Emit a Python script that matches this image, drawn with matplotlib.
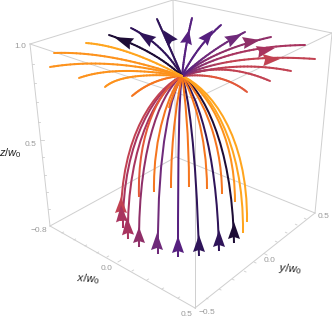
import matplotlib
matplotlib.use("Agg")
import numpy as np
import matplotlib.pyplot as plt
from matplotlib.path import Path
from matplotlib.patches import PathPatch
from matplotlib.collections import LineCollection
from matplotlib.colors import to_rgb

plt.rcParams["font.family"] = ["Liberation Sans", "DejaVu Sans"]
plt.rcParams["mathtext.fontset"] = "custom"
plt.rcParams["mathtext.rm"] = "Liberation Sans"
plt.rcParams["mathtext.it"] = "Liberation Sans:italic"

focus = (182, 76)

BLACK = "#1d0c35"
DPURP = "#2f1459"
PURP = "#56207f"
VIOL = "#6f2a7a"
MAG = "#8f2f68"
ROSE = "#a8345f"
RED = "#c24252"
RORG = "#e2583a"
ORNG = "#f5761f"
AMBR = "#fd921c"
YELL = "#ffa51e"

# fan above the focus: end, control point, colour at the focus, colour at the end
top_ends = [(86, 43), (54, 53), (50, 67), (79, 78), (105, 87), (132, 96), (109, 35), (131, 28), (157, 19),
            (192, 18), (221, 25), (245, 32), (271, 37), (305, 45), (315, 59), (291, 71), (270, 81), (247, 92)]
top_ctrl = [(126, 46), (108, 51), (110, 57), (115, 65), (122, 72), (153, 78), (154, 50), (163, 44), (170, 48),
            (185, 47), (198, 45), (210, 50), (213, 50), (230, 46), (231, 53), (237, 60), (224, 61), (222, 72)]
top_cols = [YELL, AMBR, AMBR, AMBR, AMBR, ORNG, BLACK, DPURP, DPURP,
            PURP, PURP, VIOL, MAG, ROSE, RED, RED, RED, RORG]
top_starts = [YELL, AMBR, AMBR, AMBR, AMBR, ORNG, BLACK, DPURP, DPURP,
              PURP, PURP, PURP, PURP, VIOL, VIOL, MAG, MAG, ROSE]

# arrow heads above the focus: tip, base
top_tips = [(114, 37), (138, 32), (163, 30), (189, 30), (213, 30), (242, 34), (260, 40), (275, 48), (280, 59)]
top_bases = [(132, 44), (153, 42), (173, 43), (186, 44), (203, 42), (227, 42), (243, 43), (257, 52), (263, 60)]
top_head_cols = [BLACK, DPURP, DPURP, PURP, PURP, VIOL, MAG, ROSE, RED]

# domes under the focus: first control, second control, end, colour
dome_c1 = [(210, 88), (208, 88), (204, 88), (198, 90), (192, 92), (185, 95), (178, 95), (170, 90), (160, 88), (178, 85),
           (156, 88), (158, 88), (161, 88), (165, 88), (172, 92), (179, 95), (188, 94), (195, 92), (202, 90)]
dome_c2 = [(248, 135), (244, 140), (235, 132), (222, 135), (207, 135), (189, 135), (171, 135), (153, 135), (137, 132), (172, 95),
           (120, 135), (122, 138), (126, 140), (138, 138), (157, 145), (178, 150), (196, 145), (217, 145), (232, 142)]
dome_ends = [(247, 222), (243, 233), (235, 202), (222, 194), (207, 189), (189, 187), (171, 188), (154, 192), (139, 197), (169, 108),
             (121, 221), (123, 228), (128, 239), (139, 247), (158, 254), (178, 257), (199, 256), (219, 251), (234, 243)]
dome_cols = [YELL, YELL, AMBR, ORNG, ORNG, ORNG, ORNG, ORNG, RORG, ORNG,
             RED, ROSE, ROSE, MAG, VIOL, PURP, DPURP, DPURP, BLACK]

# arrow heads under the focus
dome_tips = [(121, 197), (121, 205), (127, 217), (139, 227), (157, 233), (178, 236), (199, 235), (219, 230), (234, 222)]
dome_bases = [(121, 213), (122, 222), (128, 235), (139, 243), (157, 250), (178, 253), (199, 252), (219, 247), (234, 239)]
dome_head_cols = [RED, ROSE, ROSE, MAG, VIOL, PURP, DPURP, DPURP, BLACK]

# box corners
TL, TB, TR, TF = (30, 44), (173, 0), (332, 33), (195, 99)
BL, BB, BR, BF = (50, 226), (176, 157), (315, 213), (195, 308)
box_edges = [(TL, TB), (TB, TR), (TR, TF), (TF, TL), (BL, BB), (BB, BR), (BR, BF), (BF, BL),
             (TL, BL), (TB, BB), (TR, BR), (TF, BF)]

# tick stubs on the three labelled edges, as (x, y) of the foot
z_ticks = [(32, 64), (34, 83), (36, 102), (38, 122), (40, 140), (42, 157), (44, 175), (46, 192), (48, 209)]
z_major = [False, False, False, False, True, False, False, False, False]
x_ticks = [(62, 233), (74, 240), (85, 246), (97, 253), (107, 257), (118, 262), (132, 271), (147, 280), (162, 289), (178, 298)]
x_major = [False, False, False, False, False, True, False, False, False, False]
y_ticks = [(208, 299), (221, 290), (234, 280), (246, 272), (256, 263), (267, 255), (277, 242), (287, 233), (297, 225), (306, 219)]
y_major = [False, False, False, False, False, True, False, False, False, False]

tick_labels = ["1.0", "0.5", "\u22120.8", "0.0", "0.5", "\u22120.5", "0.0", "0.5"]
tick_pos = [(20, 47), (31, 144), (39, 230), (107, 269), (187, 315), (207, 313), (270, 260), (324, 217)]


def head(ax, tip, base, col, half=6.0, z=5):
    tip, base = np.array(tip, float), np.array(base, float)
    d = tip - base
    n = np.array([-d[1], d[0]]) / np.hypot(*d)
    pts = [tip, base + n * half, base + d * 0.12, base - n * half]
    ax.fill(*zip(*pts), color=col, lw=0, zorder=z)


fig = plt.figure(figsize=(3.32, 3.21), dpi=100)
ax = fig.add_axes([0, 0, 1, 1])
ax.set_xlim(0, 332)
ax.set_ylim(321, 0)
ax.axis("off")

for a, b in box_edges:
    ax.plot([a[0], b[0]], [a[1], b[1]], color="#cfcfcf", lw=0.7, zorder=1)

for ticks, major, dx, dy in [(z_ticks, z_major, 1, 0), (x_ticks, x_major, 0.8, -0.5), (y_ticks, y_major, -0.8, -0.4)]:
    for (x, y), m in zip(ticks, major):
        k = 3.5 if m else 2
        ax.plot([x, x + dx * k], [y, y + dy * k], color="#cfcfcf", lw=0.6, zorder=1)

for c1, c2, e, col in list(zip(dome_c1, dome_c2, dome_ends, dome_cols))[::-1]:
    p = Path([focus, c1, c2, e], [Path.MOVETO, Path.CURVE4, Path.CURVE4, Path.CURVE4])
    ax.add_patch(PathPatch(p, fc="none", ec=col, lw=1.45, capstyle="butt", zorder=3))

zo = 3.1
for e, c, c0, c1 in list(zip(top_ends, top_ctrl, top_starts, top_cols))[::-1]:
    p = Path([focus, c, e], [Path.MOVETO, Path.CURVE3, Path.CURVE3])
    curve = next(b for b, code in p.iter_bezier() if code == Path.CURVE3)
    t = np.linspace(0, 1, 31)
    pts = curve(t)
    segs = np.stack([pts[:-1], pts[1:]], axis=1)
    a, b = np.array(to_rgb(c0)), np.array(to_rgb(c1))
    w = np.minimum(t[:-1] * 2.5, 1)[:, None]
    ax.add_collection(LineCollection(segs, colors=a * (1 - w) + b * w, lw=1.45, capstyle="round", zorder=zo))
    zo += 0.01

for t, b, col in zip(top_tips, top_bases, top_head_cols):
    head(ax, t, b, col)
for t, b, col in zip(dome_tips, dome_bases, dome_head_cols):
    head(ax, t, b, col)

for s, (x, y) in zip(tick_labels, tick_pos):
    ax.text(x, y, s, fontsize=6, color="#9a9a9a", ha="center", va="center", zorder=6)

ax.text(10.5, 153, "$z/w_0$", fontsize=8, color="#222222", ha="center", va="center")
ax.text(88, 279, "$x/w_0$", fontsize=8, color="#222222", ha="center", va="center", rotation=-4)
ax.text(290, 269, "$y/w_0$", fontsize=8, color="#222222", ha="center", va="center", rotation=-4)

fig.savefig("out.png", dpi=100)
